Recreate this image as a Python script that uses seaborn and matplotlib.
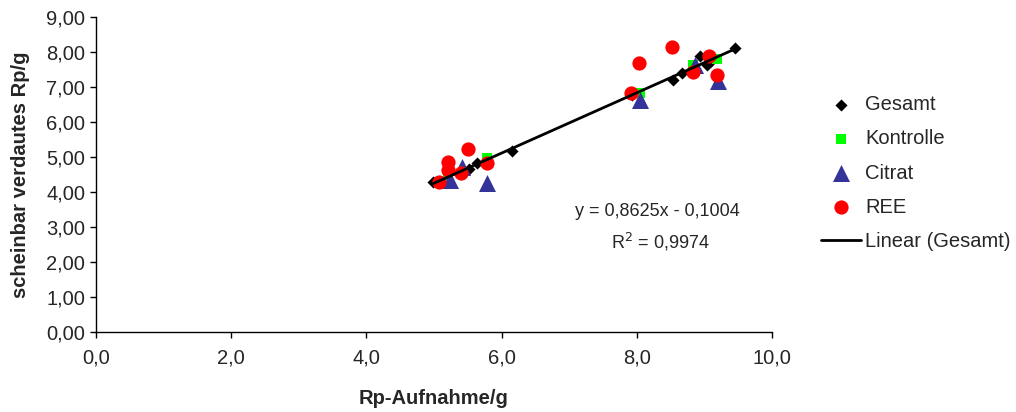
import numpy as np
import pandas as pd
import seaborn as sns
import matplotlib.pyplot as plt
from matplotlib.ticker import FuncFormatter, MultipleLocator

#------------------------------------------------------------------------------#
# Values (Rp-Aufnahme vs. scheinbar verdautes Rp)
#------------------------------------------------------------------------------#
gesamt_x = [4.99, 5.52, 5.64, 6.15, 7.93, 8.53, 8.66, 8.93, 9.03, 9.09, 9.45]
gesamt_y = [4.29, 4.67, 4.84, 5.18, 6.76, 7.21, 7.39, 7.87, 7.64, 7.73, 8.10]

kontrolle_x = [5.21, 5.78, 8.04, 8.83, 9.18]
kontrolle_y = [4.49, 4.98, 6.84, 7.64, 7.79]

citrat_x = [5.24, 5.41, 5.78, 8.04, 8.86, 9.20]
citrat_y = [4.35, 4.70, 4.27, 6.64, 7.64, 7.16]

ree_x = [5.07, 5.21, 5.21, 5.40, 5.50, 5.78, 7.91, 8.03, 8.52, 8.83, 9.07, 9.18]
ree_y = [4.29, 4.87, 4.64, 4.55, 5.24, 4.84, 6.84, 7.67, 8.13, 7.44, 7.87, 7.33]

equation_text = "y = 0,8625x - 0,1004"
r2_text = "R$^2$ = 0,9974"

#------------------------------------------------------------------------------#

def main():
    sns.set_style("white")
    plt.rcParams['font.family'] = ['Liberation Sans', 'DejaVu Sans']

    fig = plt.figure(figsize=(10.16, 4.12), dpi=100)
    ax = fig.add_axes([0.0942, 0.194, 0.666, 0.765])

    # series in Excel order, trendline last
    sns.scatterplot(x=gesamt_x, y=gesamt_y, marker='D', s=38, color='black',
                    edgecolor='black', linewidth=0, label='Gesamt', ax=ax, zorder=3)
    sns.scatterplot(x=kontrolle_x, y=kontrolle_y, marker='s', s=45, color='#00FF00',
                    edgecolor='#00FF00', linewidth=0, label='Kontrolle', ax=ax, zorder=3)
    sns.scatterplot(x=citrat_x, y=citrat_y, marker='^', s=150, color='#333399',
                    edgecolor='#333399', linewidth=0, label='Citrat', ax=ax, zorder=3)
    sns.scatterplot(x=ree_x, y=ree_y, marker='o', s=105, color='#FF0000',
                    edgecolor='#FF0000', linewidth=0, label='REE', ax=ax, zorder=3)
    sns.regplot(x=np.array(gesamt_x), y=np.array(gesamt_y), scatter=False, ci=None,
                truncate=True, color='black', ax=ax, label='Linear (Gesamt)',
                line_kws={'linewidth': 2.0, 'zorder': 4})

    ax.set_xlim(0, 10)
    ax.set_ylim(0, 9)
    ax.xaxis.set_major_locator(MultipleLocator(2))
    ax.yaxis.set_major_locator(MultipleLocator(1))
    ax.xaxis.set_major_formatter(FuncFormatter(lambda v, p: f"{v:.1f}".replace('.', ',')))
    ax.yaxis.set_major_formatter(FuncFormatter(lambda v, p: f"{v:.2f}".replace('.', ',')))

    sns.despine(ax=ax)
    for sp in ['left', 'bottom']:
        ax.spines[sp].set_color('black')
        ax.spines[sp].set_linewidth(1.0)
    ax.tick_params(axis='both', direction='out', length=4, width=1, color='black',
                   labelsize=14.5, bottom=True, left=True)
    ax.tick_params(axis='x', pad=8)

    ax.set_xlabel('Rp-Aufnahme/g', fontsize=14.5, fontweight='bold', labelpad=15)
    ax.set_ylabel('scheinbar verdautes Rp/g', fontsize=14.5, fontweight='bold', labelpad=12)

    ax.text(8.3, 3.43, equation_text, fontsize=13, ha='center', va='center')
    ax.text(8.35, 2.58, r2_text, fontsize=13, ha='center', va='center')

    handles, labels = ax.get_legend_handles_labels()
    ax.legend_.remove()
    fig.legend(handles, labels, loc='center left', bbox_to_anchor=(0.794, 0.58),
               frameon=False, fontsize=14.5, handlelength=2.0, labelspacing=0.75,
               handletextpad=0.2, borderaxespad=0.3)

    fig.savefig('out.png', dpi=100)

if __name__ == '__main__':
    main()
